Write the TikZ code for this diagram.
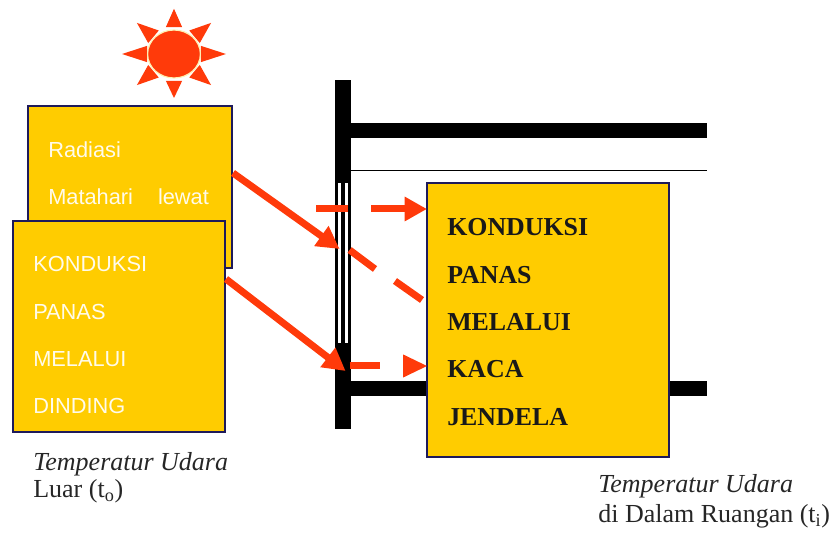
\documentclass[tikz,border=0pt]{standalone}
\usepackage{fontspec}
\setmainfont{Liberation Serif}
\setsansfont{Liberation Sans}
\usetikzlibrary{arrows.meta,calc}
\definecolor{boxfill}{HTML}{FFCC00}
\definecolor{boxline}{HTML}{1E1A5A}
\definecolor{heatred}{HTML}{FF3A0A}
\tikzset{
    panel/.style={draw=boxline, line width=0.4mm, fill=boxfill, inner sep=0mm, outer sep=0mm, anchor=north west},
    outtext/.style={font=\sffamily\fontsize{15.5}{18}\selectfont, text=white!92!boxfill, anchor=base west, inner sep=0mm},
    intext/.style={font=\bfseries\fontsize{18.4}{20}\selectfont, text=black!90, anchor=base west, inner sep=0mm},
    caption/.style={font=\fontsize{18.5}{20}\selectfont, text=black!85, anchor=base west, inner sep=0mm},
    heat/.style={draw=heatred, line width=1.75mm},
    heattip/.style={heat, -{Triangle[length=5.6mm,width=5.8mm]}},
    wallbar/.style={fill=black}
}
\begin{document}
\begin{tikzpicture}
    \useasboundingbox (0mm,0mm) rectangle (208mm,136.75mm);

    % sun
    \coordinate (sun) at (43.5mm,123.25mm);
    \foreach\a/\r in {0/13,40/12.1,90/11.3,140/12.1,180/13,220/12.1,270/11,320/12.1}
    {   \fill[heatred] ($(sun)+(\a:\r mm)$) -- ($(sun)+(\a+17:7mm)$) -- ($(sun)+(\a-17:7mm)$) -- cycle;
    }
    \filldraw[fill=heatred, draw=white!70!boxfill, line width=0.3mm] (sun) ellipse (6.6mm and 6mm);

    % wall
    \fill[wallbar] (83.75mm,29.5mm) rectangle (87.75mm,116.75mm);
    \fill[wallbar] (87.75mm,102.25mm) rectangle (176.75mm,106mm);
    \fill[wallbar] (87.75mm,37.75mm) rectangle (176.75mm,41.5mm);
    \draw[line width=0.25mm] (87.75mm,94mm) -- (176.75mm,94mm);

    % window
    \foreach\x in {84.5,86.3}
    {   \fill[white] (\x mm,51mm) rectangle ++(0.75mm,40mm);
    }

    % boxes
    \node[panel, minimum width=51mm, minimum height=40.5mm] (radiasi) at (7mm,110.25mm) {};
    \node[panel, minimum width=53mm, minimum height=52.75mm] (dinding) at (3.25mm,81.5mm) {};
    \node[panel, minimum width=60.5mm, minimum height=68.5mm] (kaca) at (106.75mm,91mm) {};

    % points on the sides of the boxes and the wall
    \coordinate (radiasiout) at (58.25mm,93.5mm);
    \coordinate (kenawall) at (84.9mm,74.5mm);
    \coordinate (dindingout) at (56.5mm,67mm);
    \coordinate (kenalow) at (86.4mm,44mm);
    \coordinate (atasa) at (79mm,84.5mm);
    \coordinate (atasb) at (87mm,84.5mm);
    \coordinate (atasc) at (92.75mm,84.5mm);
    \coordinate (atasd) at (kaca.west |- atasa);
    \coordinate (miringa) at (87.4mm,74.25mm);
    \coordinate (miringb) at (93.75mm,69.5mm);
    \coordinate (miringc) at (98.75mm,66.5mm);
    \coordinate (miringd) at (105.5mm,61.75mm);
    \coordinate (bawaha) at (87.4mm,45.25mm);
    \coordinate (bawahb) at (95mm,45.25mm);
    \coordinate (bawahc) at (100.75mm,45.25mm);
    \coordinate (bawahd) at (kaca.west |- bawahc);

    % heat flow
    \draw[heattip] (radiasiout) -- (kenawall);
    \draw[heattip] (dindingout) -- (kenalow);
    \draw[heat] (atasa) -- (atasb);
    \draw[heattip] (atasc) -- (atasd);
    \draw[heat] (miringa) -- (miringb);
    \draw[heat] (miringc) -- (miringd);
    \draw[heat] (bawaha) -- (bawahb);
    \fill[heatred] (bawahd) -- ($(bawahc)+(0mm,2.9mm)$) -- ($(bawahc)+(0mm,-2.9mm)$) -- cycle;

    % texts
    \node[outtext] (radiasia) at (12mm,97.35mm) {Radiasi};
    \node[outtext] (radiasib) at (12mm,85.6mm) {Matahari\hspace{6.25mm}lewat};
    \foreach\n/\t/\y in {dindinga/KONDUKSI/68.85,dindingb/PANAS/56.95,dindingc/MELALUI/45,dindingd/DINDING/33.25}
    {   \node[outtext] (\n) at (8.25mm,\y mm) {\t};
    }
    \foreach\n/\t/\y in {kacaa/KONDUKSI/77.9,kacab/PANAS/65.8,kacac/MELALUI/54.1,kacad/KACA/42.4,kacae/JENDELA/30.3}
    {   \node[intext] (\n) at (111.75mm,\y mm) {\t};
    }
    \node[caption] (luara) at (8.25mm,19.2mm) {\textit{Temperatur Udara}};
    \node[caption] (luarb) at (8.25mm,12.3mm) {Luar (t$_{\mathrm{o}}$)};
    \node[caption] (dalama) at (149.5mm,13.5mm) {\textit{Temperatur Udara}};
    \node[caption] (dalamb) at (149.5mm,6.1mm) {di Dalam Ruangan (t$_{\mathrm{i}}$)};
\end{tikzpicture}
\end{document}
